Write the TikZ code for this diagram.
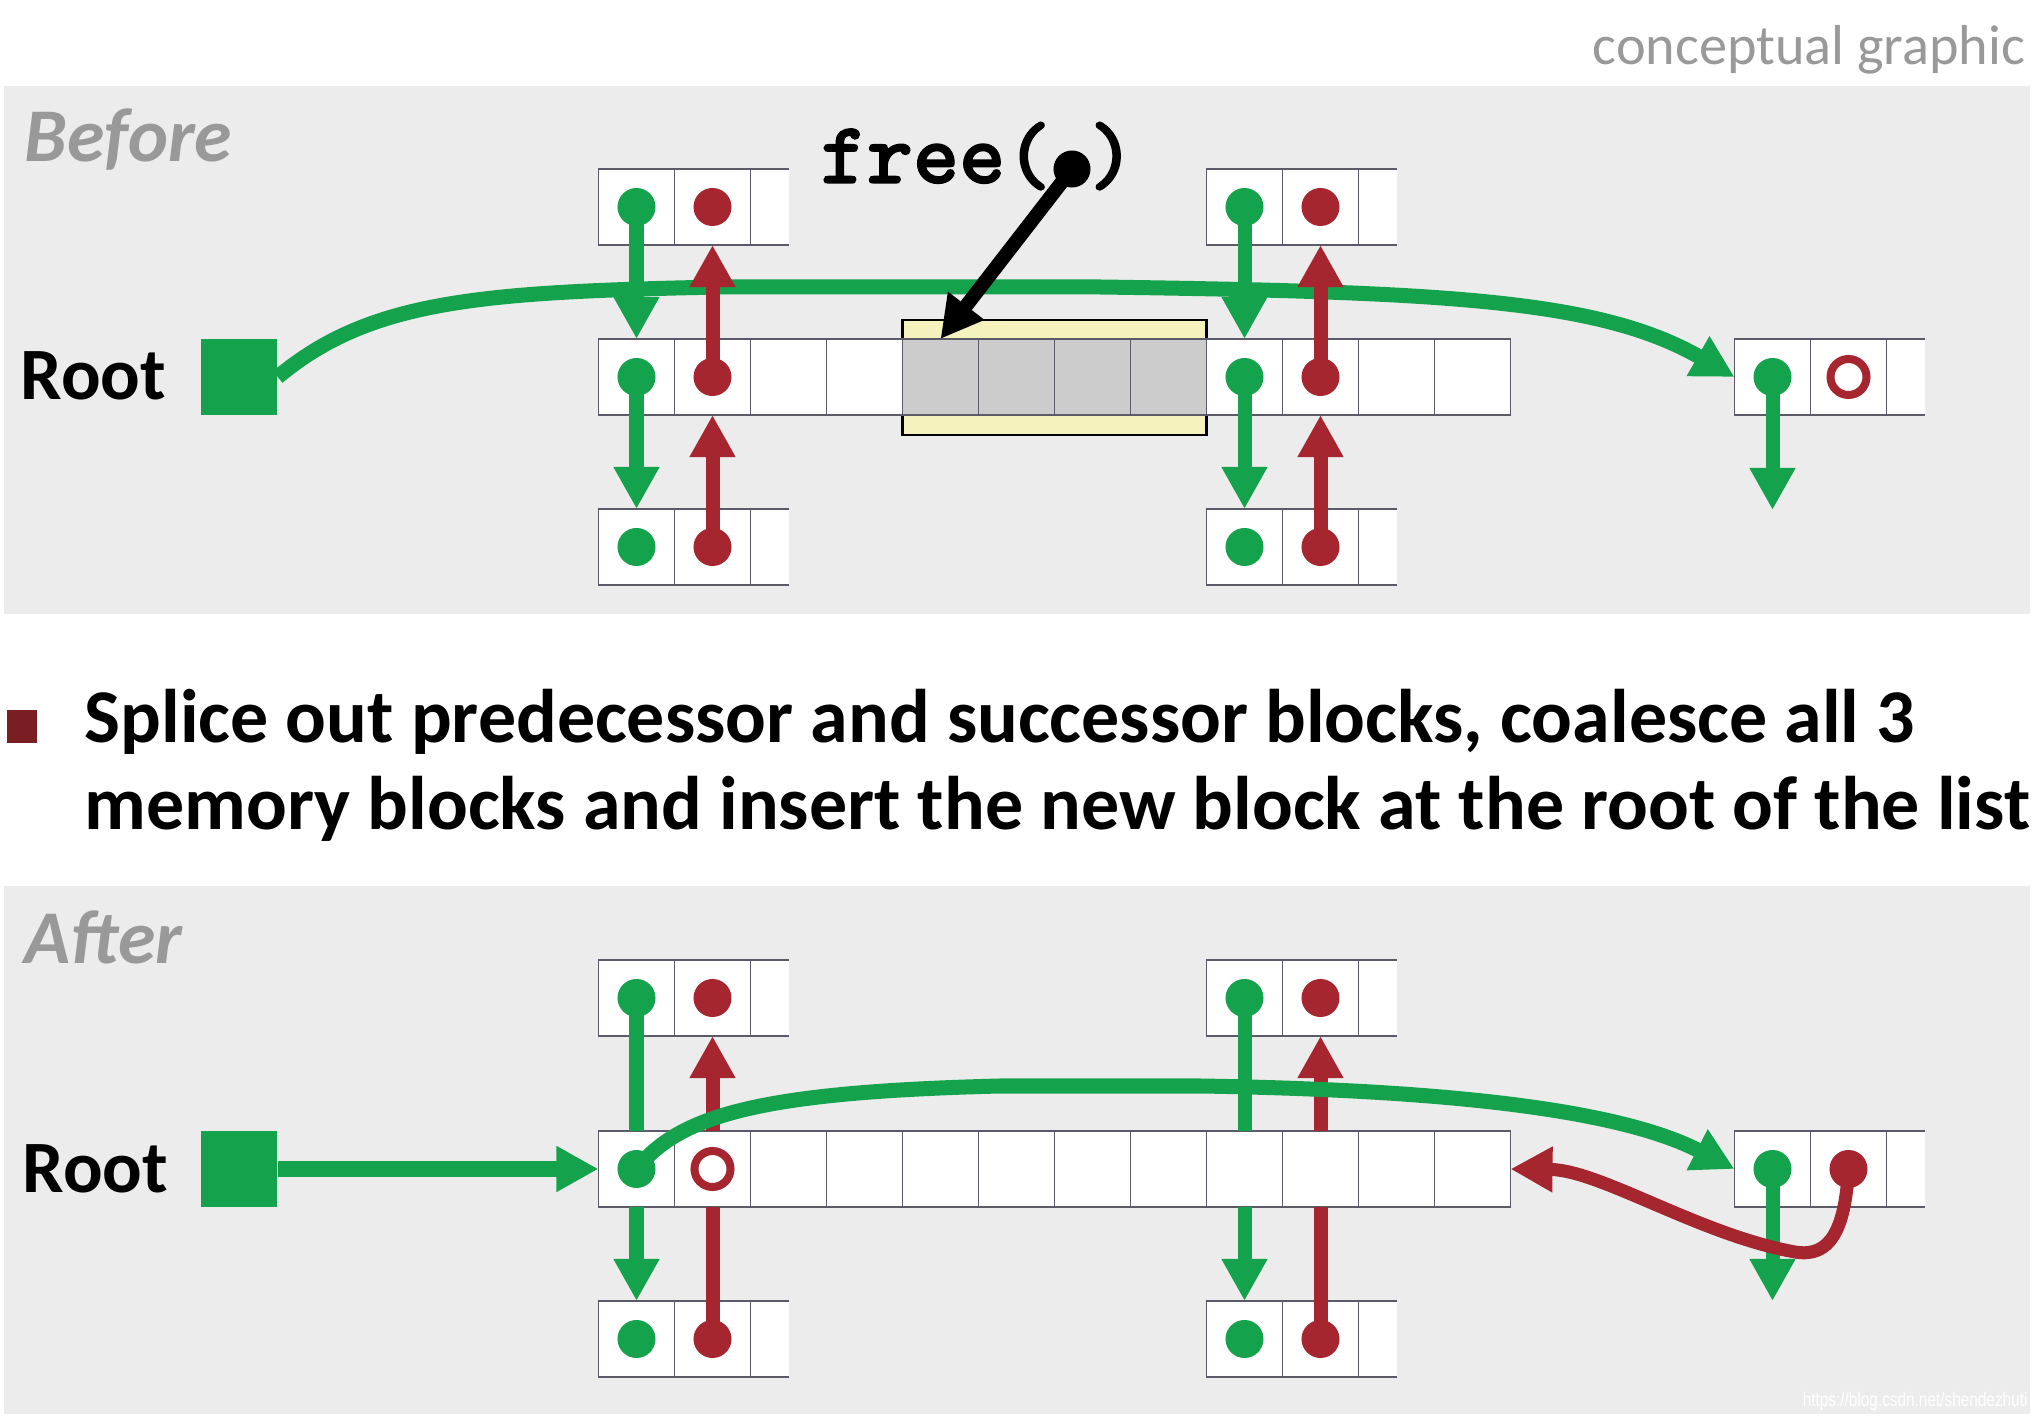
\documentclass[tikz,border=0pt]{standalone}
\usepackage{fontspec}
\setmainfont{Carlito}
\setsansfont{Liberation Sans}
\newfontfamily\codefont{lmmonolt10-bold.otf}[FakeBold=1.5]
\usetikzlibrary{arrows.meta}

\definecolor{listgreen}{RGB}{20,163,76}
\definecolor{listred}{RGB}{166,38,48}
\definecolor{bulletred}{RGB}{122,30,36}
\definecolor{panelgray}{RGB}{236,236,236}
\definecolor{labelgray}{RGB}{153,153,153}
\definecolor{cellline}{RGB}{90,90,105}
\definecolor{freedgray}{RGB}{204,204,204}
\definecolor{freedyellow}{RGB}{246,242,190}

\tikzset{
  cell/.style={draw=cellline, line width=0.015cm, fill=white, minimum size=0.76cm, inner sep=0pt, outer sep=0pt},
  freecell/.style={cell, fill=freedgray},
  gdot/.style={circle, fill=listgreen, minimum size=0.38cm, inner sep=0pt},
  rdot/.style={circle, fill=listred, minimum size=0.38cm, inner sep=0pt},
  rring/.style={circle, draw=listred, line width=0.08cm, minimum size=0.36cm, inner sep=0pt},
  gline/.style={listgreen, line width=0.14cm},
  rline/.style={listred, line width=0.14cm},
  garrow/.style={gline, -{Triangle[length=0.42cm,width=0.43cm]}},
  rarrow/.style={rline, -{Triangle[length=0.42cm,width=0.43cm]}},
  biglabel/.style={font=\fontsize{21}{25}\selectfont\bfseries, anchor=base west, inner sep=0pt},
  panellabel/.style={biglabel, labelgray, font=\fontsize{21.6}{25}\selectfont\bfseries\itshape},
  codelabel/.style={font=\fontsize{25}{28}\selectfont\codefont, inner sep=0pt},
}

\begin{document}
\begin{tikzpicture}[x=0.01cm, y=-0.01cm]
  \useasboundingbox (0,0) rectangle (2038,1416);

  % panels
  \fill[panelgray] (4,86) rectangle (2030,614);
  \fill[panelgray] (4,886) rectangle (2030,1414);

  \node[font=\fontsize{16}{19}\selectfont, labelgray, anchor=base east, inner sep=0pt] (tag) at (2026,65) {conceptual graphic};
  \node[panellabel] (before) at (24,162) {Before};
  \node[panellabel] (after) at (24,964) {After};
  \node[biglabel] (brootlbl) at (20,400) {Root};
  \node[biglabel] (arootlbl) at (22,1193) {Root};

  % bullet text
  \fill[bulletred] (6.5,710) rectangle (36.5,743);
  \node[font=\fontsize{21.6}{26}\selectfont\bfseries, anchor=base west, inner sep=0pt] (line1) at (84,743)
    {Splice out predecessor and successor blocks, coalesce all 3};
  \node[font=\fontsize{21.6}{26}\selectfont\bfseries, anchor=base west, inner sep=0pt] (line2) at (84,830)
    {memory blocks and insert the new block at the root of the list};

  % blocks of 2.5 cells: name/left x/centre y
  \foreach \nm/\x/\y in {bpt/598.5/207, bpb/598.5/547, bst/1206.5/207, bsb/1206.5/547, brt/1734.5/377,
                         apt/598.5/998, apb/598.5/1339, ast/1206.5/998, asb/1206.5/1339, art/1734.5/1169}{
    \fill[white] (\x+152,\y-38) rectangle (\x+190,\y+38);
    \draw[cellline, line width=0.015cm] (\x+190,\y-38) -- (\x+152,\y-38) (\x+152,\y+38) -- (\x+190,\y+38);
    \node[cell] (\nm1) at (\x+38,\y) {};
    \node[cell] (\nm2) at (\x+114,\y) {};
  }

  % before: middle row
  \fill[freedyellow, draw=black, line width=0.025cm] (902.5,320) rectangle (1206.5,435);
  \foreach \i in {1,...,4}{
    \node[cell] (bpm\i) at (598.5+76*\i-38,377) {};
    \node[freecell] (bfr\i) at (902.5+76*\i-38,377) {};
    \node[cell] (bsm\i) at (1206.5+76*\i-38,377) {};
  }
  \node[fill=listgreen, minimum size=0.76cm, inner sep=0pt] (broot) at (239,377) {};

  % after: coalesced row
  \foreach \i in {1,...,12}
    \node[cell] (am\i) at (598.5+76*\i-38,1169) {};
  \node[fill=listgreen, minimum size=0.76cm, inner sep=0pt] (aroot) at (239,1169) {};

  % before: links
  \draw[garrow, line width=0.15cm] (broot.east) .. controls (370,300) and (480,292) .. (720,287)
    -- (1100,287) .. controls (1450,292) and (1600,300) .. (brt1.west);
  \coordinate (brtend) at (1772.5,510);
  \draw[garrow] (bpt1.center) -- (bpm1.north);
  \draw[garrow] (bpm1.center) -- (bpb1.north);
  \draw[garrow] (bst1.center) -- (bsm1.north);
  \draw[garrow] (bsm1.center) -- (bsb1.north);
  \draw[garrow] (brt1.center) -- (brtend);
  \draw[rarrow] (bpm2.center) -- (bpt2.south);
  \draw[rarrow] (bpb2.center) -- (bpm2.south);
  \draw[rarrow] (bsm2.center) -- (bst2.south);
  \draw[rarrow] (bsb2.center) -- (bsm2.south);

  % free( ) call
  \node[codelabel, anchor=base west] (freetxt) at (820,183) {free(};
  \node[codelabel, anchor=base] (freeclose) at (1112,183) {)};
  \node[circle, fill=black, minimum size=0.37cm, inner sep=0pt] (fdot) at (1072,169) {};
  \draw[black, line width=0.14cm, -{Triangle[length=0.42cm,width=0.43cm]}] (fdot.center) -- (bfr1.north);

  % after: links
  \draw[rarrow] (am2.north) -- (apt2.south);
  \draw[rarrow] (am10.north) -- (ast2.south);
  \draw[rline] (apb2.center) -- (am2.south);
  \draw[rline] (asb2.center) -- (am10.south);
  \draw[gline] (apt1.center) -- (am1.north);
  \draw[gline] (ast1.center) -- (am9.north);
  \draw[garrow] (am1.south) -- (apb1.north);
  \draw[garrow] (am9.south) -- (asb1.north);
  \coordinate (artend) at (1772.5,1301);
  \draw[garrow] (art1.center) -- (artend);
  \draw[garrow, line width=0.15cm] (aroot.east) -- (am1.west);
  \draw[garrow, line width=0.15cm] (am1.center) .. controls (680,1115) and (760,1092) .. (1000,1086)
    -- (1200,1086) .. controls (1450,1090) and (1620,1110) .. (art1.west);
  \draw[rarrow, line width=0.13cm] (art2.center) .. controls (1845,1230) and (1830,1258) .. (1795,1252)
    .. controls (1700,1235) and (1600,1170) .. (am12.east);

  % dots
  \foreach \nm in {bpt,bpm,bpb,bst,bsm,bsb,apt,apb,ast,asb,art}{
    \node[gdot] (\nm g) at (\nm1) {};
    \node[rdot] (\nm r) at (\nm2) {};
  }
  \node[gdot] (brtg) at (brt1) {};
  \node[rring] (brtr) at (brt2) {};
  \node[gdot] (amg) at (am1) {};
  \node[rring] (amr) at (am2) {};

  \node[font=\sffamily\fontsize{5.6}{6}\selectfont, white, anchor=base east, inner sep=0pt, xscale=0.78, transform shape] (wmark) at (2028,1407) {https://blog.csdn.net/shendezhuti};
\end{tikzpicture}
\end{document}
